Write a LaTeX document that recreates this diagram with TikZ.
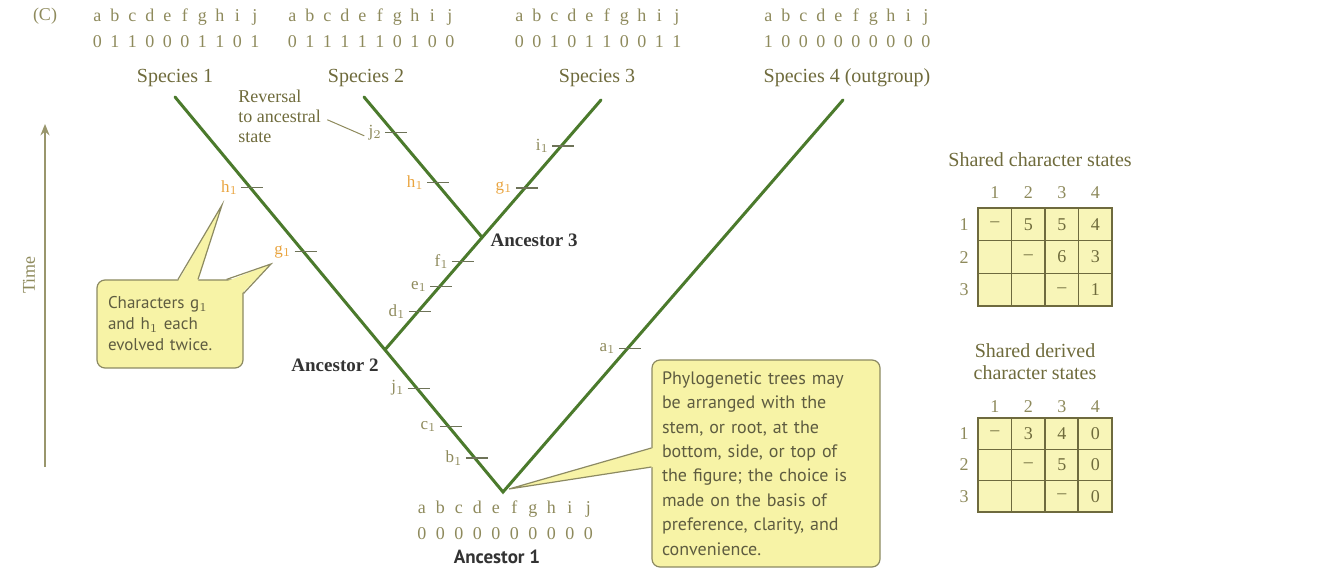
\documentclass[tikz,border=0pt]{standalone}
\usepackage{fontspec}
\setmainfont{Liberation Serif}
\setsansfont{PT Sans}
\usetikzlibrary{arrows.meta,positioning,calc}
\definecolor{treegreen}{HTML}{4B7A2C}
\definecolor{olivetext}{HTML}{6F6B3C}
\definecolor{olivelight}{HTML}{8E8A5C}
\definecolor{charorange}{HTML}{E9A43F}
\definecolor{tickgray}{HTML}{6E7358}
\definecolor{notefill}{HTML}{F7F3A6}
\definecolor{notedraw}{HTML}{8C8A62}
\definecolor{notetext}{HTML}{5E5C40}
\definecolor{cellfill}{HTML}{F8F5B8}
\definecolor{celldraw}{HTML}{6E6A3E}
\tikzset{
  >={Stealth[length=2mm,width=1.6mm]},
  % tree
  branch/.style={draw=treegreen,line width=1.5pt,line cap=round},
  tk/.style={draw=tickgray,line width=0.6pt},
  tl/.style={font=\fontsize{8.5}{9}\selectfont,text=olivelight,inner sep=1pt,anchor=east},
  tlo/.style={tl,text=charorange},
  sp/.style={font=\fontsize{10}{11}\selectfont,text=olivetext,inner sep=1pt},
  chr/.style={font=\fontsize{9}{10}\selectfont,text=olivelight,inner sep=0pt,anchor=base},
  anc/.style={font=\fontsize{9.5}{10}\selectfont\bfseries,text=black!80,inner sep=1pt},
  % callouts
  note/.style={draw=notedraw,fill=notefill,line width=0.6pt,rounded corners=4pt,
               align=left,text=notetext,inner sep=0pt},
  notetip/.style={fill=notefill},
  noteedge/.style={draw=notedraw,line width=0.6pt},
  % tables
  cell/.style={draw=celldraw,fill=cellfill,line width=0.6pt,minimum width=16.75pt,
               inner sep=0pt,font=\fontsize{9}{10}\selectfont,text=olivetext},
  hd/.style={font=\fontsize{9}{10}\selectfont,text=olivelight,inner sep=1pt},
}
\newcommand\chtick[3]{%
  \draw[tk] ($(#1)+(-9,0)$) -- ($(#1)+(13,0)$);
  \node[#3] (#1l) at ($(#1)+(-10,0)$) {#2};}
\newcommand\charrow[5]{% name, centre x, baseline y, spacing, digits
  \foreach \l [count=\i] in {a,b,c,d,e,f,g,h,i,j}
    \node[chr] (#1l\i) at ({#2+(\i-5.5)*#4},#3) {\l};
  \foreach \d [count=\i] in {#5}
    \node[chr] (#1d\i) at ({#2+(\i-5.5)*#4},#3+26) {\d};}

\begin{document}
\begin{tikzpicture}[x=0.5pt,y=-0.5pt]
\useasboundingbox (0,0) rectangle (1320,576);
  \node[hd] (panel) at (45,16) {(C)};
  % character rows
  \charrow{cA}{176}{22}{17.5}{0,1,1,0,0,0,1,1,0,1}
  \charrow{cB}{371}{22}{17.5}{0,1,1,1,1,1,0,1,0,0}
  \charrow{cC}{598}{22}{17.5}{0,0,1,0,1,1,0,0,1,1}
  \charrow{cD}{847}{22}{17.5}{1,0,0,0,0,0,0,0,0,0}
  \charrow{cR}{505}{513}{18.5}{0,0,0,0,0,0,0,0,0,0}
  \node[sp] (sp1l) at (175,78) {Species 1};
  \node[sp] (sp2l) at (366,78) {Species 2};
  \node[sp] (sp3l) at (597,78) {Species 3};
  \node[sp] (sp4l) at (847,78) {Species 4 (outgroup)};
  % tree
  \coordinate (root) at (503,492);
  \coordinate (sp1) at (175,97);
  \coordinate (sp2) at (364,97);
  \coordinate (sp3) at (601,100);
  \coordinate (sp4) at (843,100);
  \coordinate (anc2) at ($(root)!0.36!(sp1)$);
  \coordinate (anc3) at ($(anc2)!0.45!(sp3)$);
  \draw[branch] (sp1) -- (root) -- (sp4);
  \draw[branch] (anc2) -- (sp3);
  \draw[branch] (anc3) -- (sp2);
  \path (root) -- (sp1) coordinate[pos=0.086] (b1) coordinate[pos=0.165] (c1)
    coordinate[pos=0.263] (j1) coordinate[pos=0.608] (g1) coordinate[pos=0.77] (h1);
  \path (anc2) -- (sp3) coordinate[pos=0.152] (d1) coordinate[pos=0.252] (e1)
    coordinate[pos=0.352] (f1) coordinate[pos=0.648] (g2) coordinate[pos=0.816] (i1);
  \path (anc3) -- (sp2) coordinate[pos=0.39] (h2) coordinate[pos=0.745] (j2);
  \path (root) -- (sp4) coordinate[pos=0.367] (a1);
  \chtick{b1}{b$_1$}{tl}
  \chtick{c1}{c$_1$}{tl}
  \chtick{j1}{j$_1$}{tl}
  \chtick{g1}{g$_1$}{tlo}
  \chtick{h1}{h$_1$}{tlo}
  \chtick{d1}{d$_1$}{tl}
  \chtick{e1}{e$_1$}{tl}
  \chtick{f1}{f$_1$}{tl}
  \chtick{g2}{g$_1$}{tlo}
  \chtick{i1}{i$_1$}{tl}
  \chtick{h2}{h$_1$}{tlo}
  \chtick{j2}{j$_2$}{tl}
  \chtick{a1}{a$_1$}{tl}
  \node[anc,anchor=west] (anc3l) at ($(anc3)+(6,3)$) {Ancestor 3};
  \node[anc,anchor=east] (anc2l) at ($(anc2)+(-4,16)$) {Ancestor 2};
  \node[anc,font=\sffamily\fontsize{9.5}{10}\selectfont\bfseries] (anc1l) at (497,557) {Ancestor 1};
  % reversal note
  \node[sp,font=\fontsize{9}{10}\selectfont,align=left,anchor=north west] (rev) at (236,88)
    {Reversal\\to ancestral\\state};
  \draw[draw=olivelight,line width=0.5pt] ($(rev.east)+(4,3)$) -- ($(j2l.west)+(-2,3)$);
  % time axis
  \coordinate (tbot) at (45,467);
  \coordinate (ttop) at (45,124);
  \draw[->,draw=olivelight!90,line width=0.8pt] (tbot) -- (ttop);
  \node[hd,rotate=90] (time) at (29,275) {Time};
  % callout A
  \node[note,minimum width=73pt,minimum height=44pt,text width=62pt,
        font=\sffamily\fontsize{8.5}{10.5}\selectfont] (noteA) at (170,324)
    {Characters g$_1$\\and h$_1$ each\\evolved twice.};
  \coordinate (tipA1) at (222,205);
  \coordinate (tipA2) at (271,264);
  \fill[notetip] ($(noteA.north)+(8,2)$) -- (tipA1) -- ($(noteA.north)+(28,2)$) -- cycle;
  \draw[noteedge] ($(noteA.north)+(8,0)$) -- (tipA1) -- ($(noteA.north)+(28,0)$);
  \fill[notetip] ($(noteA.north east)+(-17,2)$) -- (tipA2) -- ($(noteA.north east)+(-2,14)$)
    -- ($(noteA.north east)+(-4,4)$) -- cycle;
  \draw[noteedge] ($(noteA.north east)+(-17,0)$) -- (tipA2) -- ($(noteA.north east)+(0,14)$);
  % callout B
  \node[note,minimum width=114pt,minimum height=103.5pt,text width=104pt,
        font=\sffamily\fontsize{9}{12.2}\selectfont] (noteB) at (766,463.5)
    {Phylogenetic trees may\\be arranged with the\\stem, or root,  at the\\bottom, side, or top of\\
     the figure; the choice is\\made on the basis of\\preference, clarity, and\\convenience.};
  \coordinate (tipB) at (509,489);
  \fill[notetip] ($(noteB.west)+(2,-15.5)$) -- (tipB) -- ($(noteB.west)+(2,3.5)$) -- cycle;
  \draw[noteedge] ($(noteB.west)+(0,-15.5)$) -- (tipB) -- ($(noteB.west)+(0,3.5)$);
  % table: shared character states
  \node[sp] (tabAt) at (1040,160) {Shared character states};
  \foreach \c in {1,...,4}
    \node[hd] (tabAh\c) at ({978+33.5*(\c-0.5)},193) {\c};
  \foreach \r in {1,2,3}{
    \node[hd] (tabAr\r) at (964,{208+32.7*(\r-0.5)}) {\r};
    \foreach \c in {1,...,4}
      \node[cell,minimum height=16.35pt] (tabA\r\c) at ({978+33.5*(\c-0.5)},{208+32.7*(\r-0.5)}) {};
  }
  \foreach \r/\c/\v in {1/1/--,1/2/5,1/3/5,1/4/4,2/2/--,2/3/6,2/4/3,3/3/--,3/4/1}
    \node[cell,draw=none,fill=none] (tabAv\r\c) at (tabA\r\c) {\v};
  % table: shared derived character states
  \node[sp,align=center] (tabBt) at (1035,362) {Shared derived\\character states};
  \foreach \c in {1,...,4}
    \node[hd] (tabBh\c) at ({978+33.5*(\c-0.5)},407) {\c};
  \foreach \r in {1,2,3}{
    \node[hd] (tabBr\r) at (964,{418+31.3*(\r-0.5)}) {\r};
    \foreach \c in {1,...,4}
      \node[cell,minimum height=15.65pt] (tabB\r\c) at ({978+33.5*(\c-0.5)},{418+31.3*(\r-0.5)}) {};
  }
  \foreach \r/\c/\v in {1/1/--,1/2/3,1/3/4,1/4/0,2/2/--,2/3/5,2/4/0,3/3/--,3/4/0}
    \node[cell,draw=none,fill=none] (tabBv\r\c) at (tabB\r\c) {\v};
  \draw[draw=celldraw,line width=1.1pt] (tabB14.north west) -- (tabB34.south west);
\end{tikzpicture}
\end{document}
